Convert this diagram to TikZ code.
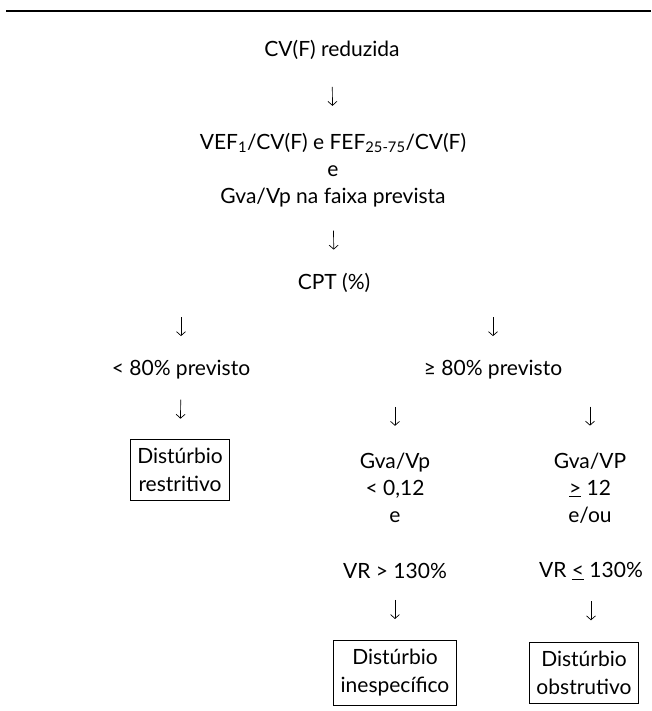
\documentclass[tikz,border=0pt]{standalone}
\usepackage{fontspec}
\setmainfont{Lato}
\usetikzlibrary{positioning,arrows.meta,decorations.markings}

\tikzset{
  txt/.style={align=center, inner sep=0pt, font=\fontsize{21}{27}\selectfont},
  caixa/.style={txt, draw, line width=.8pt, inner xsep=7pt, inner ysep=9pt, font=\fontsize{21}{28}\selectfont},
  seta/.style={postaction={decorate}, decoration={markings, mark=at position .5 with {\draw[line width=.7pt,-{Straight Barb[length=4pt,width=9pt]}] (-9.5pt,0) -- (9.5pt,0);}}}
}

\begin{document}
\begin{tikzpicture}[x=1pt,y=-1pt]
  \useasboundingbox (0,0) rectangle (651,711);
  \draw[line width=1.2pt] (6,11) -- (651,11);

  \node[txt] (cvf) at (332,50) {CV(F) reduzida};
  \node[txt] (razoes) at (333,170) {VEF\textsubscript{1}/CV(F) e FEF\textsubscript{25-75}/CV(F)\\ e\\ Gva/Vp na faixa prevista};
  \node[txt] (cpt) at (334,283) {CPT (\%)};
  \node[txt] (menor) at (181,370) {< 80\% previsto};
  \node[txt] (maior) at (493,370) {≥ 80\% previsto};
  \node[caixa] (restr) at (180,470) {Distúrbio\\ restritivo};

  \node[txt] (gvaA) at (395,488) {Gva/Vp\\ < 0,12\\ e};
  \node[txt] (gvaB) at (590,488) {Gva/VP\\ \underline{>} 12\\ e/ou};
  \node[txt] (vrA) at (395,571) {VR > 130\%};
  \node[txt] (vrB) at (591,571) {VR \underline{<} 130\%};
  \node[caixa] (inesp) at (395,673) {Distúrbio\\ inespecífico};
  \node[caixa] (obstr) at (584,673) {Distúrbio\\ obstrutivo};

  \path[seta] (cvf) -- (razoes);
  \path[seta] (razoes) -- (cpt);
  \path[seta] (menor.north |- cpt.south) -- (menor.north);
  \path[seta] (maior.north |- cpt.south) -- (maior.north);
  \path[seta] (menor) -- (restr);
  \path[seta] (gvaA.north |- maior.south) -- (gvaA.north);
  \path[seta] (gvaB.north |- maior.south) -- (gvaB.north);
  \path[seta] (vrA) -- (inesp);
  \path[seta] (vrB) -- (vrB |- obstr.north);
\end{tikzpicture}
\end{document}
